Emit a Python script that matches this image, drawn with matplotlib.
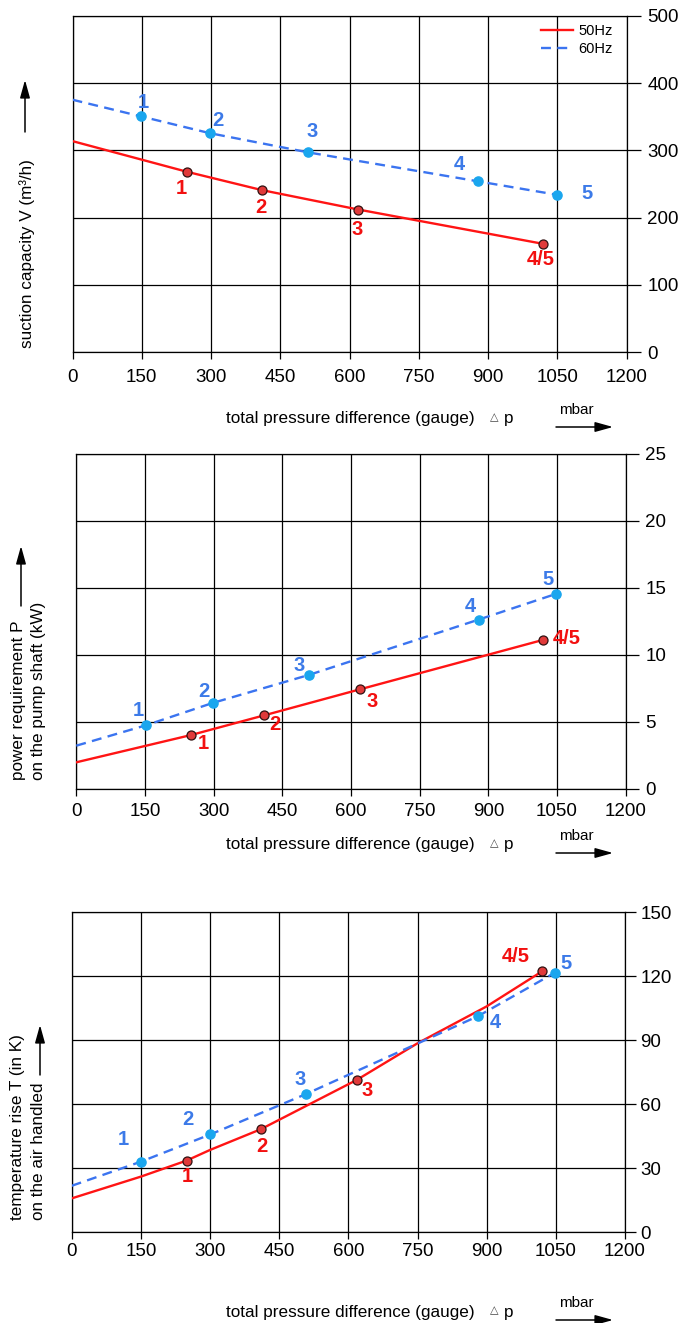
import matplotlib.pyplot as plt

plt.rcParams['font.family'] = ['Liberation Sans', 'DejaVu Sans']

# ------------------------------------------------------------
# data (x = total pressure difference, mbar)
# ------------------------------------------------------------

# suction capacity V (m3/h)
vol50_x = [249, 411, 619, 1019]
vol50_y = [268, 240.8, 212, 161]
vol50_start = 313.8
vol60_x = [149, 297, 511, 878, 1049]
vol60_y = [350.5, 325.7, 297, 254, 234]
vol60_start = 375.4

# power requirement P (kW)
pow50_x = [250, 411, 620, 1019]
pow50_y = [4.0, 5.48, 7.42, 11.1]
pow50_start = 1.97
pow60_x = [152, 298, 508, 879, 1048]
pow60_y = [4.73, 6.40, 8.49, 12.62, 14.54]
pow60_start = 3.21

# temperature rise T (K)
temp50_x = [249, 410, 618, 1020]
temp50_y = [33.6, 48.3, 71.4, 122.3]
temp50_curve_x = [0, 150, 249, 300, 410, 618, 750, 900, 1020]
temp50_curve_y = [15.9, 26.1, 33.6, 38.6, 48.3, 71.4, 88.6, 105.9, 122.3]
temp60_x = [150, 301, 508, 882, 1048]
temp60_y = [33.1, 45.9, 64.8, 101.4, 121.7]
temp60_start = 21.8

labels50 = ["1", "2", "3", "4/5"]
labels60 = ["1", "2", "3", "4", "5"]

x_ticks = [0, 150, 300, 450, 600, 750, 900, 1050, 1200]

# ------------------------------------------------------------
# styling
# ------------------------------------------------------------
W, H = 691, 1323
RED = '#ff1414'
RED_DOT = '#e03a3a'
BLUE = '#3b74f0'
BLUE_DOT = '#1aa6ee'
LBL_RED = '#f21010'
LBL_BLUE = '#3c7ae8'
DASH = (0, (4.2, 2.7))

fig = plt.figure(figsize=(W / 100, H / 100), dpi=100)


def make_axes(left, right, top, bottom):
    return fig.add_axes([left / W, 1 - bottom / H, (right - left) / W, (bottom - top) / H])


def setup(ax, ymax, ystep, xpad, ypad, ylen):
    ax.set_xlim(0, 1200)
    ax.set_ylim(0, ymax)
    ax.set_xticks(x_ticks)
    ax.set_yticks(range(0, ymax + 1, ystep))
    ax.yaxis.tick_right()
    ax.grid(True, color='black', lw=0.9)
    for s in ax.spines.values():
        s.set_linewidth(0.9)
    ax.tick_params(axis='x', direction='out', length=5, width=0.9, pad=xpad, labelsize=13.5)
    ax.tick_params(axis='y', direction='out', length=ylen, width=0.9, pad=ypad, labelsize=13.5)


def draw(ax, x50, y50, cx50, cy50, x60, y60, cx60, cy60, off50, off60):
    ax.plot(cx50, cy50, color=RED, lw=1.7, label='50Hz', zorder=3)
    ax.plot(cx60, cy60, color=BLUE, lw=1.7, ls=DASH, label='60Hz', zorder=3)
    ax.plot(x50, y50, 'o', ms=6.5, mfc=RED_DOT, mec='#301010', mew=0.9, zorder=4)
    ax.plot(x60, y60, 'o', ms=6.6, mfc=BLUE_DOT, mec=BLUE_DOT, zorder=4)
    for x, y, t, o in zip(x50, y50, labels50, off50):
        ax.annotate(t, (x, y), xytext=o, textcoords='offset pixels', ha='center', va='center',
                    color=LBL_RED, fontsize=14.5, fontweight='bold', zorder=5)
    for x, y, t, o in zip(x60, y60, labels60, off60):
        ax.annotate(t, (x, y), xytext=o, textcoords='offset pixels', ha='center', va='center',
                    color=LBL_BLUE, fontsize=14.5, fontweight='bold', zorder=5)


def arrow(x0, y0, x1, y1):
    fig.add_artist(plt.matplotlib.patches.FancyArrowPatch(
        (x0 / W, 1 - y0 / H), (x1 / W, 1 - y1 / H), transform=fig.transFigure,
        arrowstyle='-|>,head_length=0.9,head_width=0.25', mutation_scale=12,
        color='black', lw=1.1, shrinkA=0, shrinkB=0))


def x_caption(label_y, arrow_y):
    fig.text(226 / W, 1 - label_y / H, 'total pressure difference (gauge)', fontsize=12.3,
             ha='left', va='center')
    fig.text(490 / W, 1 - (label_y - 2) / H, '△', fontsize=8, ha='left', va='center',
             family=['DejaVu Sans'], color='#444444')
    fig.text(504 / W, 1 - label_y / H, 'p', fontsize=12.3, ha='left', va='center')
    fig.text(576 / W, 1 - (arrow_y - 17) / H, 'mbar', fontsize=11, ha='center', va='center')
    arrow(556, arrow_y, 613, arrow_y)


def y_caption(x, bottom, text):
    fig.text(x / W, 1 - bottom / H, text, fontsize=12.3, rotation=90, ha='center', va='bottom')


# --- panel 1: suction capacity ---
ax1 = make_axes(72.5, 626.5, 16, 352)
setup(ax1, 500, 100, 7, 5, 10)
draw(ax1, vol50_x, vol50_y, [0] + vol50_x, [vol50_start] + vol50_y,
     vol60_x, vol60_y, [0] + vol60_x, [vol60_start] + vol60_y,
     [(-6, -17), (-1, -17), (-1, -20), (-2, -16)],
     [(2, 14), (8, 13), (4, 21), (-19, 17), (30, 1)])
ax1.legend(loc='upper right', bbox_to_anchor=(0.9756, 0.975), frameon=False, fontsize=10.5,
           handlelength=2.2, handletextpad=0.4, labelspacing=0.22, borderpad=0, borderaxespad=0)
x_caption(419, 427)
y_caption(27, 348, 'suction capacity V (m³/h)')
arrow(25, 132, 25, 80)

# --- panel 2: power requirement ---
ax2 = make_axes(76.3, 625.7, 453.7, 788.7)
setup(ax2, 25, 5, 5, 5, 9)
draw(ax2, pow50_x, pow50_y, [0] + pow50_x, [pow50_start] + pow50_y,
     pow60_x, pow60_y, [0] + pow60_x, [pow60_start] + pow60_y,
     [(13, -8), (10, -9), (12, -12), (24, 1)],
     [(-8, 15), (-9, 11), (-10, 9), (-8, 13), (-8, 14)])
x_caption(845, 853)
y_caption(19, 780, 'power requirement P')
y_caption(39, 780, 'on the pump shaft (kW)')
arrow(21, 606, 21, 546)

# --- panel 3: temperature rise ---
ax3 = make_axes(71.7, 625, 912.3, 1232.3)
setup(ax3, 150, 30, 3, 3, 8)
draw(ax3, temp50_x, temp50_y, temp50_curve_x, temp50_curve_y,
     temp60_x, temp60_y, [0] + temp60_x, [temp60_start] + temp60_y,
     [(1, -16), (1, -17), (10, -11), (-26, 15)],
     [(-18, 22), (-23, 15), (-6, 15), (17, -7), (11, 9)])
x_caption(1312, 1320)
y_caption(18, 1220, 'temperature rise T (in K)')
y_caption(39, 1220, 'on the air handled')
arrow(40, 1075, 40, 1025)

fig.savefig('out.png', dpi=100)
